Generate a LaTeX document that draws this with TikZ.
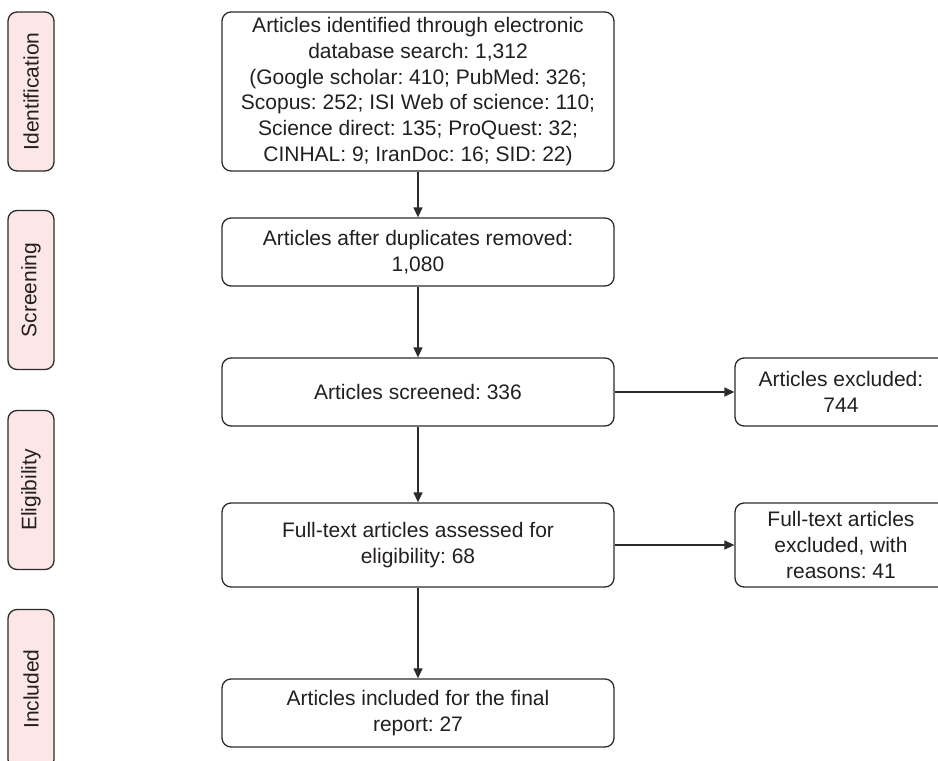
\documentclass[tikz,border=0pt]{standalone}
\usepackage{fontspec}
\setmainfont{Liberation Sans}
\frenchspacing
\usepackage{tikz}
\usetikzlibrary{arrows.meta,positioning}
\definecolor{eLine}{HTML}{2B2B2B}
\definecolor{eText}{HTML}{231F20}
\definecolor{stagePink}{HTML}{FDE6E6}
\tikzset{box/.style={draw=eLine, line width=1.3pt, rounded corners=9pt,
  align=center, text=eText, inner sep=0pt,
  font=\fontsize{21}{25.7}\selectfont}}
\tikzset{stage/.style={box, fill=stagePink, rotate=90,
  minimum width=159pt, minimum height=46pt}}
\tikzset{a/.style={draw=eLine, line width=1.3pt,
  -{Triangle[length=10pt,width=9pt]}}}

\begin{document}
\begin{tikzpicture}[x=1pt,y=-1pt]
        \clip (0,0) rectangle (938,761);
        %% stages
        \node (sId) at (31,91.5) [stage] {Identification};
        \node (sSc) at (31,290) [stage] {Screening};
        \node (sEl) at (31,490) [stage] {Eligibility};
        \node (sIn) at (31,689) [stage] {Included};
        %% main column
        \node (ident) at (418,91.5) [box, minimum width=392pt, minimum height=159pt]
            {Articles identified through electronic\\database search: 1,312\\
             (Google scholar: 410; PubMed: 326;\\Scopus: 252; ISI Web of science: 110;\\
             Science direct: 135; ProQuest: 32;\\CINHAL: 9; IranDoc: 16; SID: 22)};
        \node (dup) at (418,252) [box, minimum width=392pt, minimum height=68pt]
            {Articles after duplicates removed:\\1,080};
        \node (scr) at (418,392) [box, minimum width=392pt, minimum height=68pt]
            {Articles screened: 336};
        \node (elig) at (418,545) [box, minimum width=392pt, minimum height=84pt]
            {Full-text articles assessed for\\eligibility: 68};
        \node (incl) at (418,713) [box, minimum width=392pt, minimum height=68pt]
            {Articles included for the final\\report: 27};
        %% exclusions
        \node (exc1) at (841,392) [box, minimum width=212pt, minimum height=68pt]
            {Articles excluded:\\744};
        \node (exc2) at (841,545) [box, minimum width=212pt, minimum height=84pt]
            {Full-text articles\\excluded, with\\reasons: 41};
        \draw [a] (ident) to (dup);
        \draw [a] (dup) to (scr);
        \draw [a] (scr) to (elig);
        \draw [a] (elig) to (incl);
        \draw [a] (scr) to (exc1);
        \draw [a] (elig) to (exc2);
\end{tikzpicture}
\end{document}
